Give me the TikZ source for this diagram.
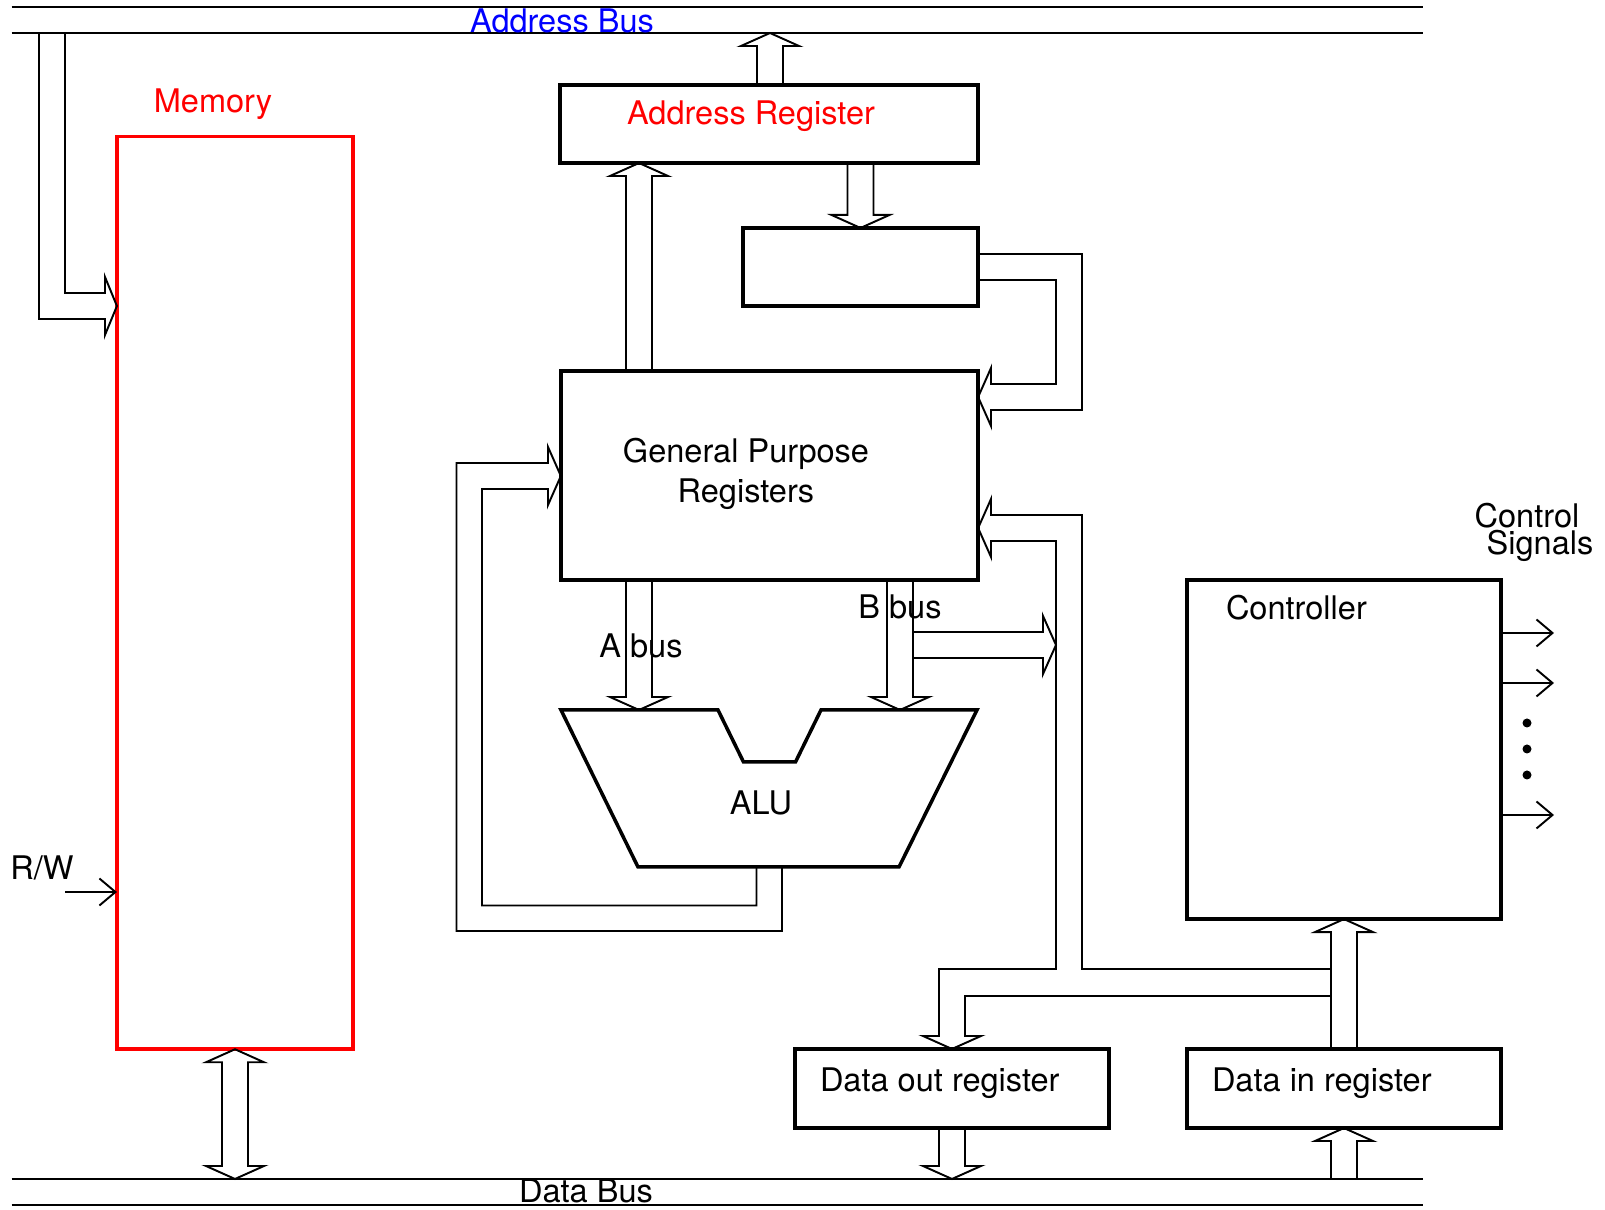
\documentclass[tikz,border=0pt]{standalone}
\usepackage{fontspec}
\setmainfont{TeX Gyre Heros}
\usetikzlibrary{arrows.meta,calc,positioning}

% hollow bus arrow from #1 to #2
\newcommand{\fatarrow}[2]{%
  \path (#1) coordinate (fa-s) (#2) coordinate (fa-t);
  \path ($(fa-t)!1.3mm!(fa-s)$) coordinate (fa-b);
  \draw[bus] ($(fa-s)!1.3mm!90:(fa-t)$) -- ($(fa-b)!1.3mm!90:(fa-t)$) -- ($(fa-b)!2.9mm!90:(fa-t)$) -- (fa-t)
    -- ($(fa-b)!2.9mm!-90:(fa-t)$) -- ($(fa-b)!1.3mm!-90:(fa-t)$) -- ($(fa-s)!1.3mm!-90:(fa-t)$);
}
% same, with a head at both ends
\newcommand{\fatboth}[2]{%
  \path (#1) coordinate (fa-s) (#2) coordinate (fa-t);
  \path ($(fa-t)!1.3mm!(fa-s)$) coordinate (fa-b) ($(fa-s)!1.3mm!(fa-t)$) coordinate (fa-a);
  \draw[bus] ($(fa-a)!1.3mm!90:(fa-t)$) -- ($(fa-b)!1.3mm!90:(fa-t)$) -- ($(fa-b)!2.9mm!90:(fa-t)$) -- (fa-t)
    -- ($(fa-b)!2.9mm!-90:(fa-t)$) -- ($(fa-b)!1.3mm!-90:(fa-t)$) -- ($(fa-a)!1.3mm!-90:(fa-t)$)
    -- ($(fa-a)!2.9mm!-90:(fa-t)$) -- (fa-s) -- ($(fa-a)!2.9mm!90:(fa-t)$) -- cycle;
}

\begin{document}
\begin{tikzpicture}[x=0.01cm, y=-0.01cm,
  box/.style={draw, line width=1pt, inner sep=0pt, outer sep=0pt},
  bus/.style={line width=0.55pt},
  sig/.style={line width=0.55pt, -{Straight Barb[length=1.6mm, width=2.7mm]}},
  lbl/.style={inner sep=0pt, outer sep=0pt, font=\fontsize{9.25}{11.4}\selectfont}]
\useasboundingbox (0,0) rectangle (1605,1210);

% buses
\node[minimum width=14.11cm, minimum height=0.26cm, inner sep=0pt, outer sep=0pt] (abus) at (717.5,20) {};
\node[minimum width=14.11cm, minimum height=0.26cm, inner sep=0pt, outer sep=0pt] (dbus) at (717.5,1192) {};
\foreach \b in {abus,dbus} {
  \draw[bus] (\b.north west) -- (\b.north east);
  \draw[bus] (\b.south west) -- (\b.south east);
}
\node[lbl, blue, anchor=base] (abuslbl) at (562,33) {Address Bus};
\node[lbl, anchor=base] (dbuslbl) at (586,1203) {Data Bus};

% memory
\node[box, draw=red, minimum width=2.36cm, minimum height=9.12cm] (mem) at (235,593) {};
\node[lbl, red, anchor=base] (memlbl) at (213,113) {Memory};

% registers
\node[box, minimum width=4.18cm, minimum height=0.78cm] (ar) at (769,124) {};
\node[lbl, red, anchor=base] (arlbl) at (751,125) {Address Register};
\node[box, minimum width=2.35cm, minimum height=0.78cm] (sr) at (860.5,267) {};
\node[box, minimum width=4.17cm, minimum height=2.09cm] (gpr) at (769.5,475.5) {};
\node[lbl, align=center] (gprlbl) at (746,474) {General Purpose\\Registers};
\node[box, minimum width=3.14cm, minimum height=3.39cm] (ctrl) at (1344,749.5) {};
\node[lbl, anchor=base west] (ctrllbl) at (1226,620) {Controller};
\node[box, minimum width=3.14cm, minimum height=0.79cm] (dor) at (952,1088.5) {};
\node[lbl, anchor=base west] (dorlbl) at (820,1092) {Data out register};
\node[box, minimum width=3.14cm, minimum height=0.79cm] (dir) at (1344,1088.5) {};
\node[lbl, anchor=base west] (dirlbl) at (1212,1092) {Data in register};

% alu
\draw[line width=1pt] (561,710) coordinate (alu-tl) -- (718,710) -- (743.5,762) -- (795.5,762) -- (821,710)
  -- (977,710) coordinate (alu-tr) -- (899,867) -- (638,867) coordinate (alu-b) -- cycle;
\node[lbl, anchor=base] (alulbl) at (761,815) {ALU};
\node[lbl, anchor=base] (albl) at (641,658) {A bus};
\node[lbl, anchor=base] (bblbl) at (900,619) {B bus};

% control signals
\node[lbl, anchor=base] (sig1) at (1527,528) {Control};
\node[lbl, anchor=base] (sig2) at (1540,555) {Signals};
\foreach \y in {633,683,815}
  \draw[sig] (ctrl.east |- 0,\y) -- (1554,\y);
\foreach \y in {723,749,775}
  \fill (1527,\y) circle (0.045cm);

% R/W
\node[lbl, anchor=base] (rw) at (42,880) {R/W};
\coordinate (rwin) at (65,892);
\draw[sig] (rwin) -- (rwin -| mem.west);

% straight bus arrows
\fatarrow{770,0 |- ar.north}{770,0 |- abus.south}
\fatarrow{639,0 |- gpr.north}{639,0 |- ar.south}
\fatarrow{ar.south -| sr.north}{sr.north}
\fatarrow{639,0 |- gpr.south}{639,0 |- alu-tl}
\fatarrow{900,0 |- gpr.south}{900,0 |- alu-tr}
\fatarrow{913,645}{1056,645}
\fatarrow{dir.north}{ctrl.south}
\fatarrow{dor.south}{dor.south |- dbus.north}
\fatarrow{dir.south |- dbus.north}{dir.south}
\fatboth{mem.south}{mem.south |- dbus.north}

% bent bus arrows
\draw[bus] (39,0 |- abus.south) |- (105,319) -- (105,335) -- (mem.west |- 0,306) -- (105,277) -- (105,293) -| (65,0 |- abus.south);
\draw[bus] ($(sr.east)+(0,-13)$) -| (1082,410) -- (991,410) -- (991,426) -- (gpr.east |- 0,397) -- (991,368) -- (991,384)
  -| (1056,280) -- ($(sr.east)+(0,13)$);
\draw[bus] (782,0 |- alu-b) |- (456.5,931) |- (548,463) -- (548,447) -- (gpr.west |- 0,476) -- (548,505) -- (548,489)
  -| (482,905.5) -| (756.5,0 |- alu-b);
\draw[bus] (1331,969) -| (1082,515) -- (991,515) -- (991,499) -- (gpr.east |- 0,528) -- (991,557) -- (991,541)
  -| (1056,969) -| (939,1036) -- (923,1036) -- (dor.north) -- (981,1036) -- (965,1036) |- (1331,996);
\end{tikzpicture}
\end{document}
